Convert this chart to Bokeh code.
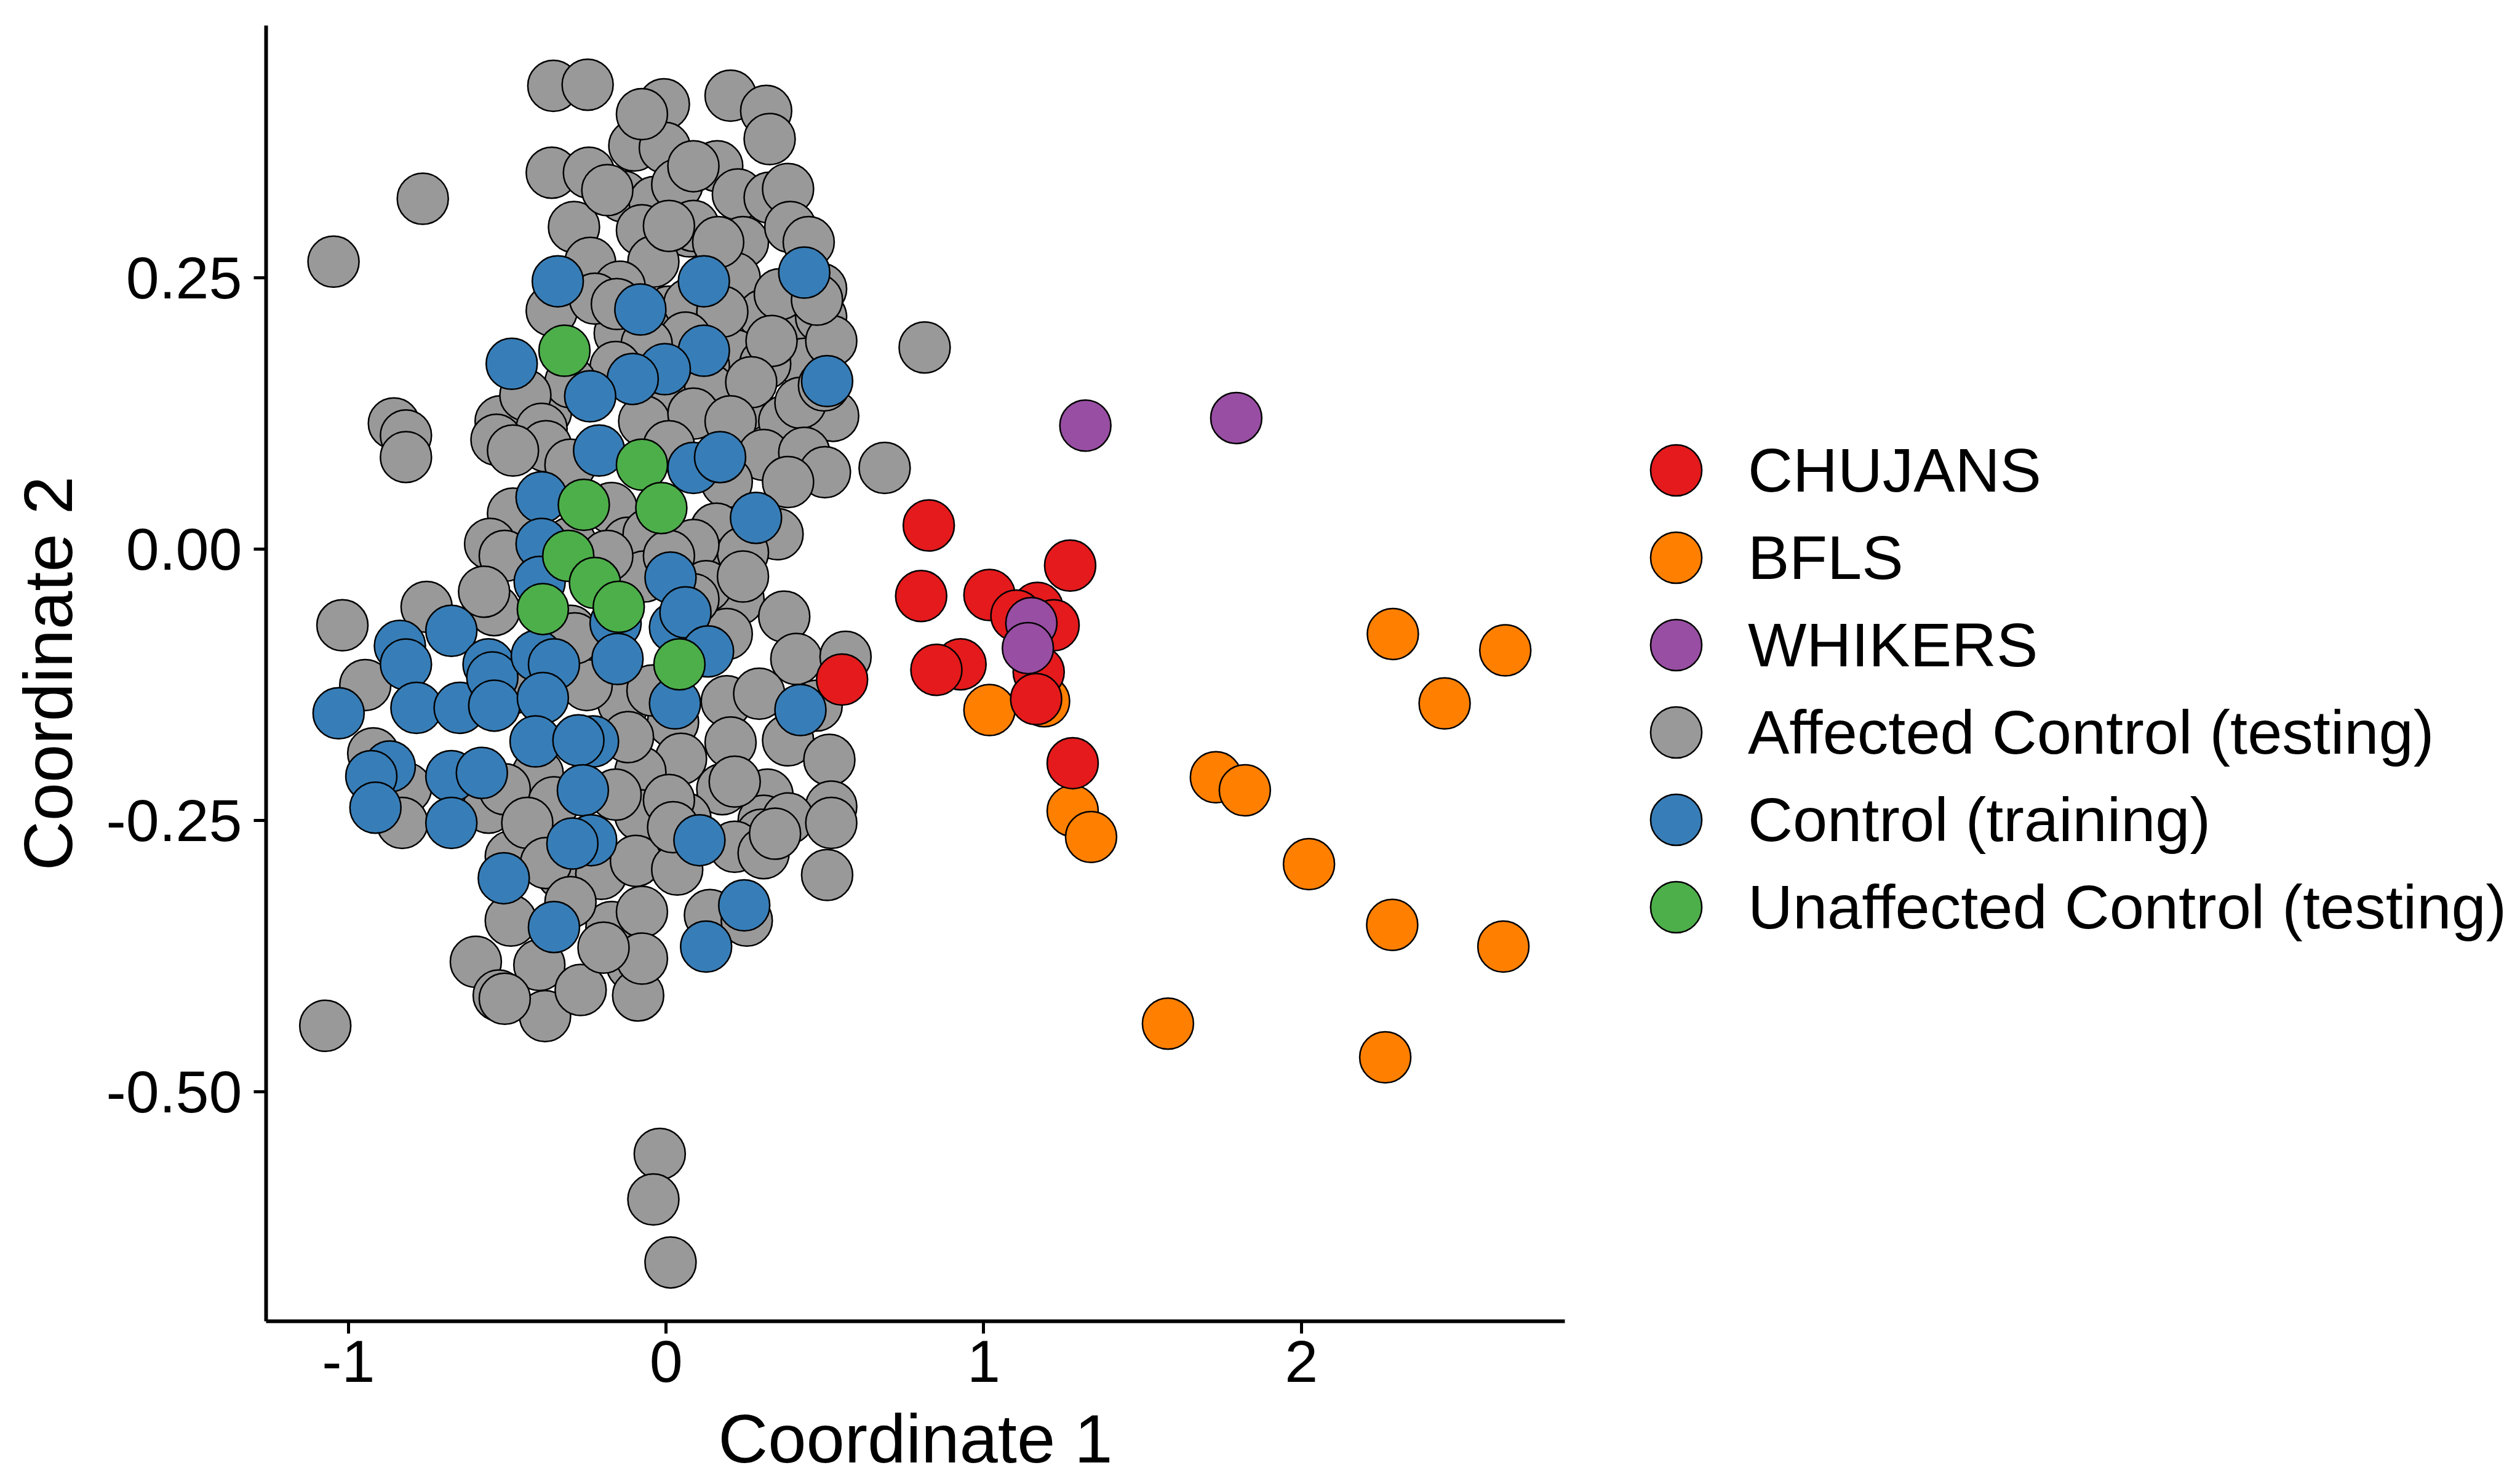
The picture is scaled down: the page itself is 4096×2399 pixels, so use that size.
from bokeh.plotting import figure
from bokeh.models import Range1d, Legend, LegendItem, FixedTicker
from bokeh.embed import file_html
from bokeh.resources import INLINE

# ---------------- data ----------------
gray_x = [-0.355, -0.247, -0.007, 0.203, 0.315, 0.326, -0.100, -0.004, -0.360, -0.243, 0.161, -0.076,
          -0.766, -1.047, -0.135, -0.036, 0.226, 0.326, 0.035, 0.384, -0.290, -0.076, 0.073, 0.242,
          0.391, -0.239, -0.040, 0.216, 0.449, 0.488, -0.146, -0.360, 0.009, 0.307, 0.416, 0.488,
          -0.146, 0.216, 0.435, 0.520, 0.312, 0.119, -0.378, -0.521, -0.857, -0.819, -0.819, 0.254,
          0.526, 0.372, -0.043, 0.814, 0.688,
          0.086, -0.185, 0.086, 0.164, 0.009, -0.224, -0.155, 0.073, 0.177, 0.358, 0.475, 0.061,
          -0.061, 0.332, 0.138, -0.018, 0.268, 0.423, -0.159, -0.301, -0.443, 0.497, -0.392, -0.069,
          0.086, 0.203,
          -0.534, -0.378, 0.307, 0.435, 0.500, 0.384, 0.191, -0.482, -0.554, -0.508, -0.172, -0.120,
          -0.055, 0.158, 0.351, 0.158, 0.242, 0.086, -0.069, -0.541, -0.754, -1.019, 0.228, 0.372,
          0.191, 0.410, 0.565, 0.191, 0.293, -0.134, 0.022, -0.947, -0.573, -0.301, -0.250, 0.384,
          0.514, 0.047, -0.081, 0.177, 0.319, 0.520, -0.457, -0.559, -0.845, -0.922, -0.081, 0.061,
          0.307, -0.404, 0.126, -0.482,
          -0.482, -0.301, 0.009, -0.301, -0.185, 0.009, 0.242, 0.086, -0.288, -0.043, -0.120, 0.203,
          0.216, -0.404, -0.508, -0.353, -0.159, 0.009, 0.384, -0.819, 0.474,
          0.520, 0.507, -0.599, -0.527, -0.381, -0.399, -0.269, -0.172, -0.076, -0.107, -0.088, -0.076,
          0.138, 0.254, -0.489, -0.327, -0.204, -0.095, 0.035, 0.300, 0.216, -0.489, -0.437, -0.831,
          -1.073, -0.020, -0.040, 0.014,
          -0.378, 0.022, 0.307, 0.343, -0.301, -0.197, -0.508]
gray_y = [0.427, 0.428, 0.410, 0.418, 0.404, 0.378, 0.372, 0.370, 0.347, 0.347, 0.353, 0.401,
          0.323, 0.265, 0.325, 0.320, 0.327, 0.324, 0.336, 0.332, 0.297, 0.294, 0.293, 0.283,
          0.297, 0.264, 0.265, 0.250, 0.283, 0.240, 0.242, 0.220, 0.219, 0.216, 0.209, 0.214,
          0.199, 0.179, 0.171, 0.192, 0.171, 0.169, 0.127, 0.118, 0.116, 0.105, 0.085, 0.133,
          0.123, 0.118, 0.130, 0.186, 0.075,
          0.353, 0.331, 0.298, 0.283, 0.298, 0.231, 0.226, 0.226, 0.219, 0.235, 0.230, 0.195,
          0.189, 0.192, 0.147, 0.142, 0.154, 0.135, 0.168, 0.154, 0.142, 0.151, 0.111, 0.118,
          0.125, 0.118,
          0.101, 0.095, 0.087, 0.089, 0.071, 0.062, 0.062, 0.033, 0.005, -0.006, 0.038, 0.006,
          0.014, 0.019, 0.014, -0.015, -0.003, 0.004, -0.025, -0.056, -0.053, -0.070, -0.046, -0.062,
          -0.078, -0.101, -0.099, -0.140, -0.133, -0.142, -0.159, -0.125, -0.039, -0.075, -0.125, -0.176,
          -0.194, -0.193, -0.205, -0.221, -0.226, -0.237, -0.236, -0.238, -0.236, -0.188, -0.245, -0.248,
          -0.250, -0.121, -0.034, -0.128,
          0.091, 0.078, 0.095, 0.006, -0.006, -0.006, -0.025, -0.046, -0.082, -0.130, -0.173, -0.178,
          -0.214, -0.207, -0.221, -0.233, -0.226, -0.231, -0.248, -0.220, -0.144,
          -0.252, -0.300, -0.380, -0.411, -0.430, -0.383, -0.406, -0.348, -0.334, -0.383, -0.411, -0.377,
          -0.337, -0.342, -0.342, -0.299, -0.299, -0.287, -0.295, -0.263, -0.274, -0.283, -0.252, -0.252,
          -0.439, -0.557, -0.599, -0.657,
          -0.289, -0.256, -0.280, -0.262, -0.325, -0.367, -0.414]

blue_x = [-0.341, 0.119, 0.435, -0.081, -0.486, 0.119, -0.004, -0.105, -0.239, 0.507, -0.211,
          0.086, 0.170, -0.392, 0.283, -0.392, -0.398, 0.014, 0.028, 0.061, 0.132, -0.159, -0.153,
          0.028, -0.676, -0.838, -0.819, -1.031, -0.786, -0.650, -0.559, -0.547, -0.541, -0.407,
          -0.353, -0.388, -0.411, -0.230, -0.276, -0.870, -0.928, -0.915, -0.676, -0.580, -0.676,
          -0.262, 0.423, -0.236, -0.295, 0.105, -0.511, -0.353, 0.246, 0.126]
blue_y = [0.247, 0.247, 0.255, 0.221, 0.171, 0.183, 0.166, 0.157, 0.141, 0.155, 0.091,
          0.075, 0.085, 0.048, 0.029, 0.005, -0.030, -0.026, -0.072, -0.058, -0.094, -0.068, -0.101,
          -0.142, -0.075, -0.089, -0.106, -0.151, -0.146, -0.146, -0.106, -0.118, -0.144, -0.098,
          -0.106, -0.137, -0.177, -0.177, -0.176, -0.200, -0.209, -0.238, -0.209, -0.206, -0.252,
          -0.222, -0.148, -0.268, -0.271, -0.268, -0.303, -0.348, -0.328, -0.366]

green_x = [-0.320, -0.076, -0.259, -0.015, -0.308, -0.224, -0.388, -0.149, 0.042]
green_y = [0.183, 0.078, 0.041, 0.038, -0.006, -0.031, -0.055, -0.053, -0.106]

orange_x = [1.018, 1.190, 1.280, 1.338, 1.731, 1.822, 2.024, 2.288, 2.642, 2.451, 2.286, 2.636, 1.580, 2.264]
orange_y = [-0.148, -0.140, -0.241, -0.265, -0.210, -0.222, -0.290, -0.078, -0.093, -0.142, -0.346, -0.366, -0.437, -0.468]

red_x = [0.827, 0.803, 1.018, 1.272, 1.169, 1.220, 1.103, 0.927, 0.851, 1.173, 1.165, 0.554, 1.280]
red_y = [0.022, -0.043, -0.042, -0.015, -0.054, -0.070, -0.061, -0.106, -0.111, -0.113, -0.138, -0.120, -0.197]

purple_x = [1.320, 1.795, 1.150, 1.139]
purple_y = [0.114, 0.121, -0.068, -0.091]

x_ticks = [-1, 0, 1, 2]
x_tick_labels = ["-1", "0", "1", "2"]
y_ticks = [-0.5, -0.25, 0.0, 0.25]
y_tick_labels = ["-0.50", "-0.25", "0.00", "0.25"]

legend_labels = ["CHUJANS", "BFLS", "WHIKERS", "Affected Control (testing)",
                 "Control (training)", "Unaffected Control (testing)"]

# ---------------- figure ----------------
FONT = "Liberation Sans"
FRAME_W, FRAME_H = 2111, 2106
p = figure(frame_width=FRAME_W, frame_height=FRAME_H,
           x_range=Range1d(-1.2593, 2.8295), y_range=Range1d(-0.7112, 0.4826),
           output_backend="svg", toolbar_location=None,
           min_border_left=432, min_border_top=41, min_border_bottom=245, min_border_right=1545)
p.outline_line_color = None
p.xgrid.visible = False
p.ygrid.visible = False
p.background_fill_color = "white"

DIAM = 83
LW = 2.5


def points(xs, ys, color):
    return p.ellipse(x=xs, y=ys, width=DIAM, height=DIAM,
                     width_units="screen", height_units="screen",
                     fill_color=color, line_color="black", line_width=LW)


r_gray = points(gray_x, gray_y, "#999999")
r_blue = points(blue_x, blue_y, "#377EB8")
r_green = points(green_x, green_y, "#4DAF4A")
r_orange = points(orange_x, orange_y, "#FF7F00")
r_red = points(red_x, red_y, "#E41A1C")
r_purple = points(purple_x, purple_y, "#984EA3")

for ax in (p.xaxis[0], p.yaxis[0]):
    ax.axis_line_width = 6
    ax.axis_line_color = "black"
    ax.major_tick_line_width = 5
    ax.major_tick_line_color = "black"
    ax.major_tick_out = 20
    ax.major_tick_in = 0
    ax.minor_tick_out = 0
    ax.minor_tick_in = 0
    ax.major_label_text_font = FONT
    ax.major_label_text_font_size = "97px"
    ax.major_label_text_color = "black"
    ax.axis_label_text_font = FONT
    ax.axis_label_text_font_size = "112px"
    ax.axis_label_text_font_style = "normal"
    ax.axis_label_text_color = "black"

p.xaxis[0].ticker = FixedTicker(ticks=x_ticks)
p.xaxis[0].major_label_overrides = dict(zip(x_ticks, x_tick_labels))
p.yaxis[0].ticker = FixedTicker(ticks=y_ticks)
p.yaxis[0].major_label_overrides = dict(zip(y_ticks, y_tick_labels))
p.xaxis[0].axis_label = "Coordinate 1"
p.yaxis[0].axis_label = "Coordinate 2"
p.xaxis[0].major_label_standoff = 11
p.yaxis[0].major_label_standoff = 19
p.xaxis[0].axis_label_standoff = 27
p.yaxis[0].axis_label_standoff = 28

renderers = [r_red, r_orange, r_purple, r_gray, r_blue, r_green]
legend = Legend(items=[LegendItem(label=lab, renderers=[r]) for lab, r in zip(legend_labels, renderers)],
                location=(129, 602), orientation="vertical",
                glyph_width=104, glyph_height=142, spacing=0, padding=0, margin=0,
                label_standoff=65, label_text_font=FONT, label_text_font_size="101px",
                label_text_color="black", border_line_color=None, background_fill_alpha=0)
p.add_layout(legend, "right")

open("out.html", "w").write(file_html(p, INLINE))
